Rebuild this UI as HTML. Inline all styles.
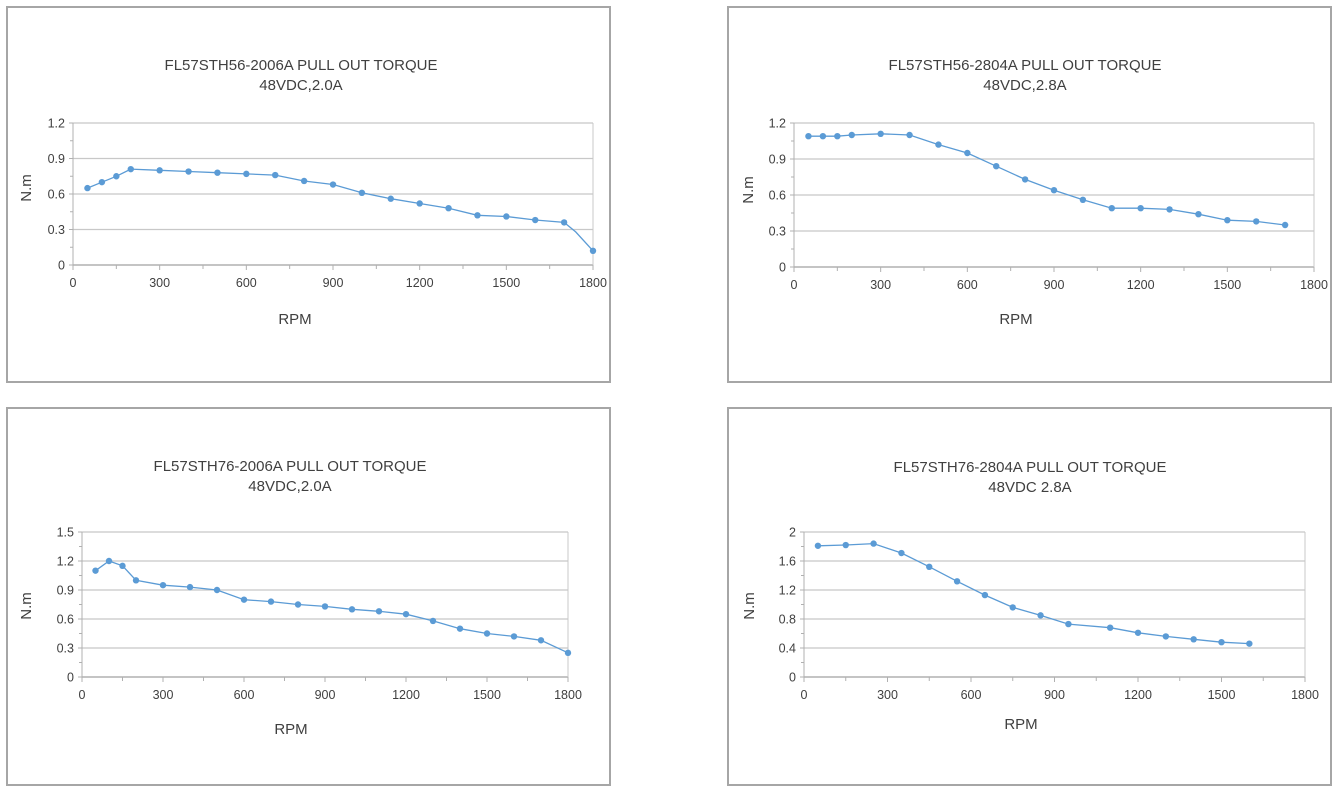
<!DOCTYPE html>
<html><head><meta charset="utf-8"><style>
html,body{margin:0;padding:0;background:#fff;}
svg text{font-family:"Liberation Sans",sans-serif;fill:#404040;}
</style></head><body>
<svg id="s" width="1339" height="792" xmlns="http://www.w3.org/2000/svg"></svg>
<script>
var charts=[
{box:[6,6,605,377],x0:73,x1:593,y0:265,y1:123,ymax:1.2,ystep:0.3,ylab:["0","0.3","0.6","0.9","1.2"],
 t1:"FL57STH56-2006A  PULL OUT TORQUE",t2:"48VDC,2.0A",tx:301,ty:64,rx:295,ry:318,nx:26,ny:188,
 d:[[50,.65],[100,.70],[150,.75],[200,.81],[300,.80],[400,.79],[500,.78],[600,.77],[700,.76],[800,.71],[900,.68],[1000,.61],[1100,.56],[1200,.52],[1300,.48],[1400,.42],[1500,.41],[1600,.38],[1700,.36],[1740,.28],[1800,.12]],nodot:[1740]},
{box:[727,6,605,377],x0:794,x1:1314,y0:267,y1:123,ymax:1.2,ystep:0.3,ylab:["0","0.3","0.6","0.9","1.2"],
 t1:"FL57STH56-2804A  PULL OUT TORQUE",t2:"48VDC,2.8A",tx:1025,ty:64,rx:1016,ry:318,nx:748,ny:190,
 d:[[50,1.09],[100,1.09],[150,1.09],[200,1.10],[300,1.11],[400,1.10],[500,1.02],[600,.95],[700,.84],[800,.73],[900,.64],[1000,.56],[1100,.49],[1200,.49],[1300,.48],[1400,.44],[1500,.39],[1600,.38],[1700,.35]]},
{box:[6,407,605,379],x0:82,x1:568,y0:677,y1:532,ymax:1.5,ystep:0.3,ylab:["0","0.3","0.6","0.9","1.2","1.5"],
 t1:"FL57STH76-2006A  PULL OUT TORQUE",t2:"48VDC,2.0A",tx:290,ty:465,rx:291,ry:728,nx:26,ny:606,
 d:[[50,1.10],[100,1.20],[150,1.15],[200,1.00],[300,.95],[400,.93],[500,.90],[600,.80],[700,.78],[800,.75],[900,.73],[1000,.70],[1100,.68],[1200,.65],[1300,.58],[1400,.50],[1500,.45],[1600,.42],[1700,.38],[1800,.25]]},
{box:[727,407,605,379],x0:804,x1:1305,y0:677,y1:532,ymax:2,ystep:0.4,ylab:["0","0.4","0.8","1.2","1.6","2"],
 t1:"FL57STH76-2804A  PULL  OUT  TORQUE",t2:"48VDC 2.8A",tx:1030,ty:466,rx:1021,ry:723,nx:749,ny:606,
 d:[[50,1.81],[150,1.82],[250,1.84],[350,1.71],[450,1.52],[550,1.32],[650,1.13],[750,.96],[850,.85],[950,.73],[1100,.68],[1200,.61],[1300,.56],[1400,.52],[1500,.48],[1600,.46]]}
];
var h='';
charts.forEach(function(c){
 var b=c.box;
 h+='<rect x="'+(b[0]+1)+'" y="'+(b[1]+1)+'" width="'+(b[2]-2)+'" height="'+(b[3]-2)+'" fill="#fff" stroke="#a6a6a6" stroke-width="2"/>';
 function X(v){return c.x0+(c.x1-c.x0)*v/1800;}
 function Y(v){return c.y0-(c.y0-c.y1)*v/c.ymax;}
 var n=c.ylab.length-1;
 for(var i=0;i<=n;i++){var y=Y(i*c.ystep);
  h+='<line x1="'+c.x0+'" x2="'+c.x1+'" y1="'+y+'" y2="'+y+'" stroke="'+(i==0?'#a0a0a0':'#c8c8c8')+'" stroke-width="1.3"/>';
  h+='<line x1="'+(c.x0-4)+'" x2="'+c.x0+'" y1="'+y+'" y2="'+y+'" stroke="#b0b0b0"/>';
  if(i<n){var ym=Y((i+.5)*c.ystep);h+='<line x1="'+(c.x0-3)+'" x2="'+c.x0+'" y1="'+ym+'" y2="'+ym+'" stroke="#b0b0b0"/>';}
  h+='<text x="'+(c.x0-8)+'" y="'+(y+4.5)+'" font-size="12.5" text-anchor="end">'+c.ylab[i]+'</text>';
 }
 h+='<line x1="'+c.x0+'" x2="'+c.x0+'" y1="'+c.y1+'" y2="'+c.y0+'" stroke="#b0b0b0"/>';
 h+='<line x1="'+c.x1+'" x2="'+c.x1+'" y1="'+c.y1+'" y2="'+c.y0+'" stroke="#c8c8c8"/>';
 for(var v=0;v<=1800;v+=150){var x=X(v);
  h+='<line x1="'+x+'" x2="'+x+'" y1="'+c.y0+'" y2="'+(c.y0+(v%300?4:5))+'" stroke="#b0b0b0"/>';
  if(v%300==0)h+='<text x="'+x+'" y="'+(c.y0+22)+'" font-size="12.5" text-anchor="middle">'+v+'</text>';
 }
 var pts=c.d.map(function(p){return X(p[0]).toFixed(1)+','+Y(p[1]).toFixed(1);}).join(' ');
 h+='<polyline points="'+pts+'" fill="none" stroke="#5b9bd5" stroke-width="1.3"/>';
 c.d.forEach(function(p){if(c.nodot&&c.nodot.indexOf(p[0])>=0)return;h+='<circle cx="'+X(p[0])+'" cy="'+Y(p[1])+'" r="3.2" fill="#5b9bd5"/>';});
 h+='<text x="'+c.tx+'" y="'+(c.ty+6)+'" font-size="15" text-anchor="middle">'+c.t1+'</text>';
 h+='<text x="'+c.tx+'" y="'+(c.ty+26)+'" font-size="15" text-anchor="middle">'+c.t2+'</text>';
 h+='<text x="'+c.rx+'" y="'+(c.ry+6)+'" font-size="15" text-anchor="middle">RPM</text>';
 h+='<text transform="translate('+(c.nx+5)+','+c.ny+') rotate(-90)" font-size="15" text-anchor="middle">N.m</text>';
});
document.getElementById('s').innerHTML=h;
</script>
</body></html>
